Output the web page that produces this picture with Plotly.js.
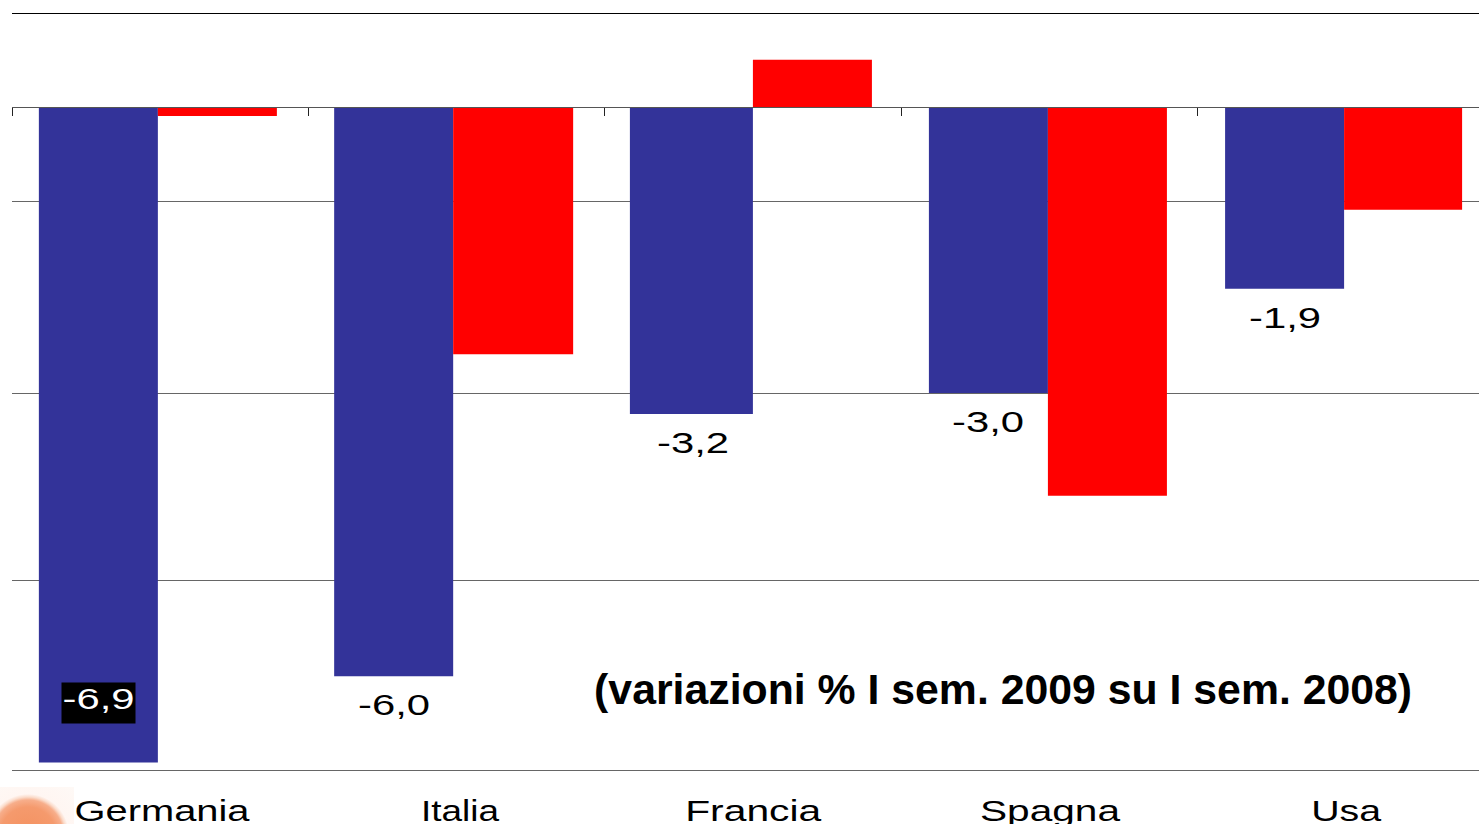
<!DOCTYPE html>
<html><head><meta charset="utf-8">
<script src="https://cdn.plot.ly/plotly-3.0.1.min.js"></script>
<style>html,body{margin:0;padding:0;background:#fff;overflow:hidden}
#chart{width:1479px;height:824px;position:absolute;left:0;top:0}
#photo{position:absolute;left:0;top:787px;width:74px;height:37px;pointer-events:none;
background:radial-gradient(circle at 28px 48px,#f4915f 0,#f59a6d 28px,#f7ae8b 35px,#fbdccb 38px,#fff6f2 41px,#fef9f6 100%)}
</style></head><body>
<div id="chart"></div><div id="photo"></div>
<script>
const categories = ["Germania","Italia","Francia","Spagna","Usa"];
const seriesBlue = [-6.92,-6.01,-3.24,-3.02,-1.92];
const seriesRed = [-0.095,-2.61,0.50,-4.105,-1.085];
const blueLabels = ["-6,9","-6,0","-3,2","-3,0","-1,9"];
const noteText = "(variazioni % I sem. 2009 su I sem. 2008)";
const labelBoxed = [true,false,false,false,false];
const gridValues = [-1,-3.02,-5];

// small per-group layout nudges seen in the reference (in category units)
const groupNudge = [-0.008,-0.012,-0.001,-0.006,-0.007];
const labelNudge = [0.006,0.011,0,0.001,0];
const blueWidths = [0.4014,0.4014,0.4149,0.4014,0.4014];
const redWidths = [0.4014,0.4047,0.4014,0.4014,0.3980];

const x = categories.map((c,i)=>i+groupNudge[i]);
const labelTicks = categories.map((c,i)=>i+labelNudge[i]);
const xr = [-0.5,4.448];
const traces = [
 {type:'bar',x:x,y:seriesBlue,width:blueWidths,offset:blueWidths.map(w=>-w),marker:{color:'#333399',line:{width:0}},hoverinfo:'y',showlegend:false},
 {type:'bar',x:x,y:seriesRed,width:redWidths,offset:0,marker:{color:'#ff0000',line:{width:0}},hoverinfo:'y',showlegend:false},
 {type:'scatter',x:[0],y:[0.5],xaxis:'x2',yaxis:'y2',mode:'none',hoverinfo:'skip',showlegend:false},
 {type:'scatter',x:[0],y:[0.5],xaxis:'x3',yaxis:'y2',mode:'none',hoverinfo:'skip',showlegend:false}
];
const annotations = blueLabels.map((t,i)=>({
  x:x[i],y:seriesBlue[i],xref:'x',yref:'y',text:t,showarrow:false,xanchor:'center',yanchor:'middle',
  xshift:-59.5,yshift:labelBoxed[i]?59.5:-29,
  font:{family:'Liberation Sans',size:29,color:labelBoxed[i]?'#ffffff':'#000000'},
  bgcolor:labelBoxed[i]?'#000000':'rgba(0,0,0,0)',
  width:labelBoxed[i]?73:undefined,height:labelBoxed[i]?40:undefined,valign:labelBoxed[i]?'top':'middle',borderpad:0
}));
annotations.push({xref:'paper',yref:'paper',x:(1003-12)/1467,y:(770-689)/756,text:noteText,showarrow:false,
  xanchor:'center',yanchor:'middle',font:{family:'Liberation Sans',size:43,weight:700,color:'#000'}});
const layout = {
 width:1479,height:824,margin:{l:12,r:0,t:14,b:54},paper_bgcolor:'rgba(0,0,0,0)',plot_bgcolor:'rgba(0,0,0,0)',
 barmode:'overlay',showlegend:false,
 xaxis:{type:'linear',range:xr,tickmode:'array',tickvals:labelTicks,ticktext:categories,ticks:'',showgrid:false,zeroline:false,
   showline:true,linecolor:'#666666',linewidth:1,anchor:'y',tickfont:{family:'Liberation Sans',size:30,color:'#000'},ticklabelstandoff:14},
 yaxis:{range:[-7,0.982],domain:[0,1],tickmode:'array',tickvals:gridValues,gridcolor:'#666666',gridwidth:1,showticklabels:false,ticks:'',zeroline:false,showline:false},
 yaxis2:{range:[0,1],domain:[0.877,1],visible:false,fixedrange:true},
 xaxis2:{overlaying:'x',anchor:'y2',side:'bottom',range:xr,tick0:-0.5,dtick:1,ticks:'outside',ticklen:8,tickwidth:1,tickcolor:'#222',
   showticklabels:false,showgrid:false,zeroline:false,showline:true,linecolor:'#555',linewidth:1},
 xaxis3:{overlaying:'x',anchor:'y2',side:'top',range:xr,ticks:'',showticklabels:false,showgrid:false,zeroline:false,showline:true,linecolor:'#000',linewidth:1},
 annotations:annotations
};
Plotly.newPlot('chart',traces,layout,{displayModeBar:false,staticPlot:true}).then(()=>{
  const stretch=(el,w)=>{el.setAttribute('textLength',w);el.setAttribute('lengthAdjust','spacingAndGlyphs');};
  const tickWidths={Germania:175,Italia:78,Francia:136,Spagna:140,Usa:70};
  document.querySelectorAll('.xtick text').forEach(el=>{const w=tickWidths[el.textContent];if(w)stretch(el,w);});
  document.querySelectorAll('.annotation-text').forEach(el=>{
    if(/^-\d/.test(el.textContent))stretch(el,72);
    else stretch(el,818);
  });
});
</script></body></html>
